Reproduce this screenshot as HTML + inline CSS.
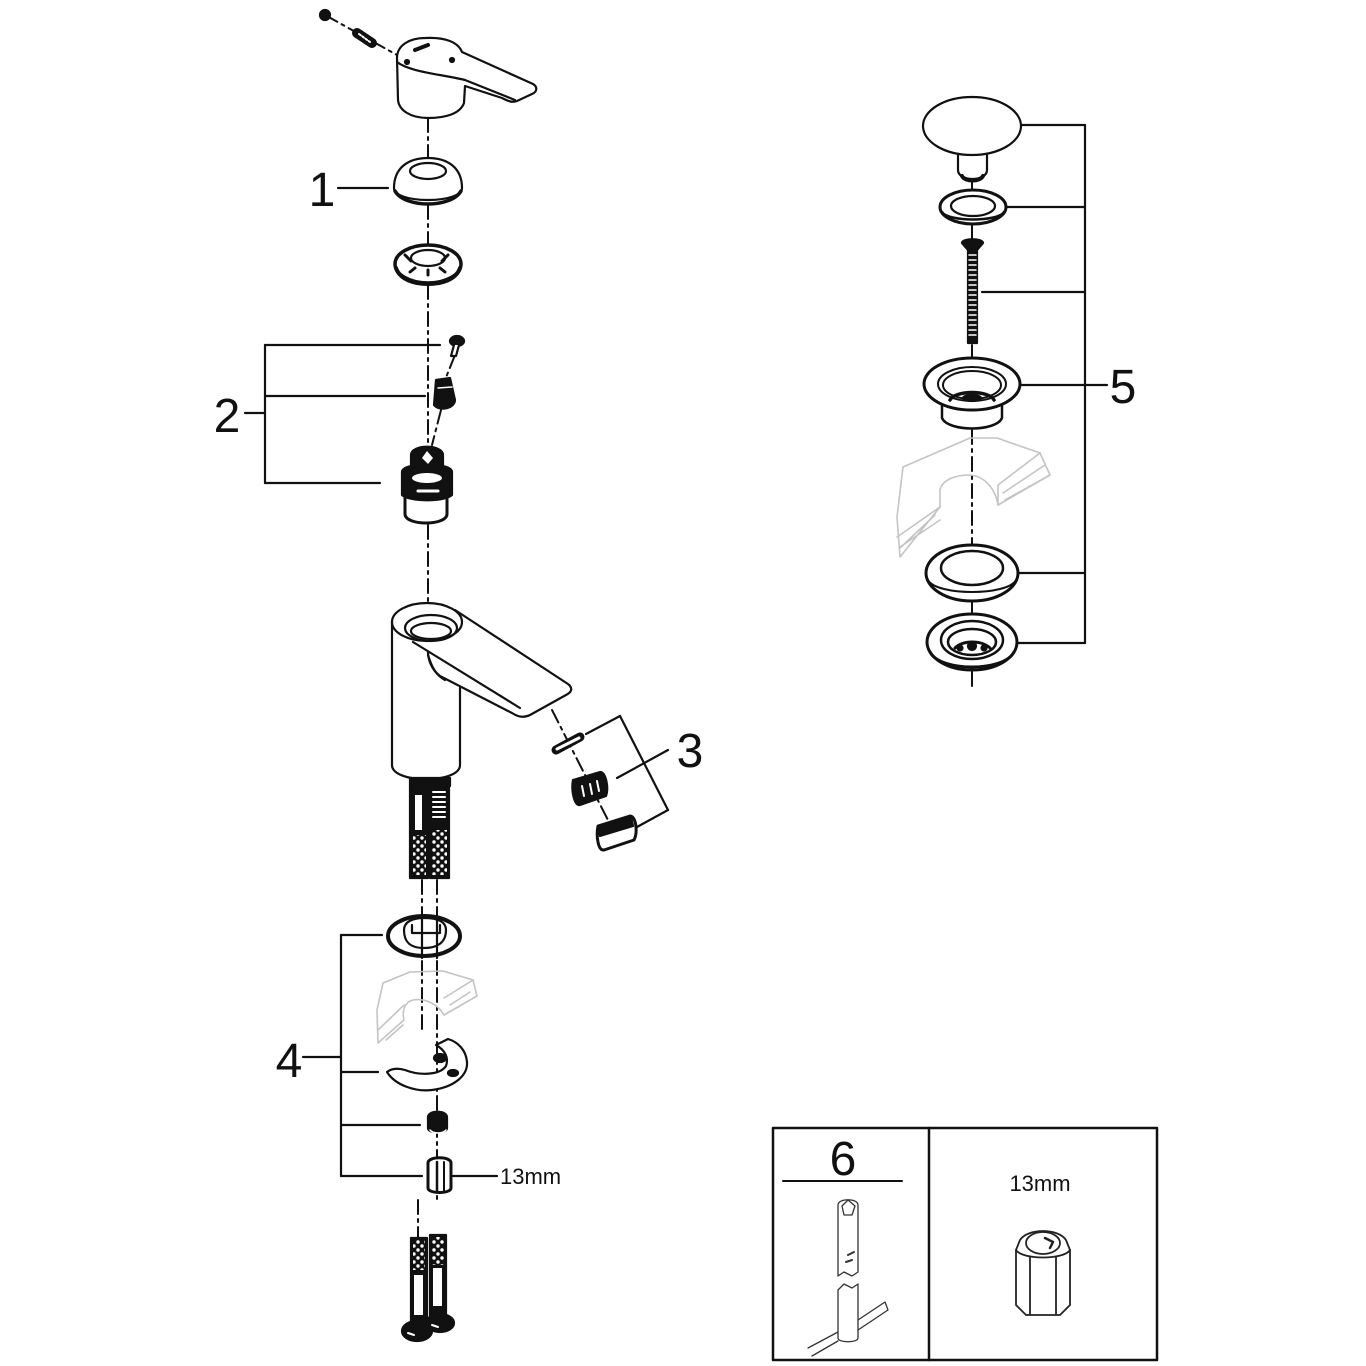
<!DOCTYPE html>
<html><head><meta charset="utf-8"><style>
html,body{margin:0;padding:0;background:#fff;}
svg{display:block;}
text{font-family:"Liberation Sans",Arial,sans-serif;fill:#111;}
</style></head><body>
<svg width="1366" height="1366" viewBox="0 0 1366 1366" xmlns="http://www.w3.org/2000/svg">
<defs>
<pattern id="mesh" width="8" height="8" patternUnits="userSpaceOnUse">
<rect width="8" height="8" fill="#111"/>
<circle cx="2" cy="2" r="1.7" fill="#fff"/><circle cx="6" cy="6" r="1.7" fill="#fff"/>
</pattern>
</defs>
<g fill="none" stroke="#111" stroke-width="2.2" stroke-linecap="round" stroke-linejoin="round">

<!-- ===== axis dash lines (left) ===== -->
<g stroke-width="2" stroke-dasharray="14 5 3 5">
<line x1="325" y1="15" x2="397" y2="55"/>
<line x1="428" y1="118" x2="428" y2="158"/>
<line x1="428" y1="205" x2="428" y2="244"/>
<line x1="428" y1="285" x2="428" y2="448"/>
<line x1="455" y1="355" x2="445" y2="380"/>
<line x1="441" y1="410" x2="432" y2="445"/>
<line x1="428" y1="525" x2="428" y2="612"/>
<line x1="422" y1="880" x2="422" y2="1030"/>
<line x1="437" y1="880" x2="437" y2="1200"/>
<line x1="418" y1="1200" x2="418" y2="1238"/>
<line x1="552" y1="710" x2="612" y2="828"/>
</g>

<!-- ===== handle ===== -->
<circle cx="325" cy="15" r="5" fill="#111"/>
<line x1="357" y1="33" x2="372" y2="43" stroke-width="10"/>
<line x1="359" y1="34" x2="370" y2="42" stroke="#fff" stroke-width="2" stroke-dasharray="2 2"/>
<path d="M397,58 C397,45 410,38 425,38 C445,37 458,42 462,52 L533,84 C538,87 537,92 532,94 L517,101 C512,103 508,101 502,98 L465,86 L464,103 C460,114 445,118 428,118 C410,118 399,110 398,100 Z" fill="#fff"/>
<path d="M397,62 C410,72 440,74 465,80 L515,100"/>
<path d="M415,50 L428,45" stroke-width="4"/>
<circle cx="407" cy="62" r="2" fill="#111"/>
<circle cx="452" cy="60" r="2" fill="#111"/>

<!-- ===== ring 1 ===== -->
<path d="M394,188 C394,168 408,158 428,158 C448,158 462,168 462,188 C462,195 448,200 428,200 C408,200 394,195 394,188 Z" fill="#fff"/>
<ellipse cx="428" cy="171" rx="18" ry="8"/>
<path d="M395,191 C400,200 415,204 428,204 C441,204 456,200 461,191" stroke-width="3.5"/>
<line x1="338" y1="188" x2="388" y2="188"/>
<text x="322" y="206" font-size="48" text-anchor="middle" stroke="none">1</text>

<!-- ===== nut ===== -->
<ellipse cx="428" cy="264" rx="33" ry="19" fill="#fff" stroke-width="3.5"/>
<ellipse cx="428" cy="258" rx="17" ry="8"/>
<path d="M396,268 C400,280 415,284 428,284 C441,284 456,280 460,268" stroke-width="4"/>
<path d="M405,255 l6,6 M448,255 l-6,6 M410,272 l5,-4 M445,272 l-5,-4 M428,275 l0,-5" stroke-width="3"/>

<!-- ===== part 2 ===== -->
<line x1="265" y1="345" x2="265" y2="483"/>
<line x1="265" y1="345" x2="440" y2="345"/>
<line x1="265" y1="396" x2="425" y2="396"/>
<line x1="265" y1="483" x2="380" y2="483"/>
<line x1="245" y1="413" x2="265" y2="413"/>
<text x="227" y="432" font-size="48" text-anchor="middle" stroke="none">2</text>
<ellipse cx="457" cy="341" rx="7" ry="5" fill="#111"/>
<path d="M454,345 L451,356 L456,356 L459,345" fill="#fff"/>
<path d="M436,380 L450,378 L455,400 C455,408 440,412 434,405 Z" fill="#111"/>
<path d="M438,388 L452,387" stroke="#fff" stroke-width="1.5"/>
<!-- cartridge -->
<path d="M405,497 L405,514 C405,526 447,526 447,514 L447,497" fill="#fff" stroke-width="3"/>
<path d="M402,472 C402,462 452,462 452,472 L452,495 C445,502 410,502 402,495 Z" fill="#111"/>
<ellipse cx="427" cy="478" rx="15" ry="5" fill="#fff" stroke="none"/>
<path d="M418,491 L438,491" stroke="#fff" stroke-width="3"/>
<path d="M411,455 C411,444 443,444 443,455 L443,467 C436,470 418,470 411,467 Z" fill="#111"/>
<path d="M422,458 L427,451 L433,458 L428,464 Z" fill="#fff" stroke="none"/>

<!-- ===== body ===== -->
<path d="M392,621 L392,765 C392,784 460,784 460,765 L460,688" fill="#fff"/>
<path d="M455,610 L568,684 C573,688 572,692 566,695 L530,715 C524,718 518,717 512,713 L440,676 C432,670 428,660 428,652" fill="#fff"/>
<path d="M413,642 L520,708"/>
<path d="M428,655 C432,668 436,675 445,680"/>
<ellipse cx="427" cy="622" rx="35" ry="19" fill="#fff"/>
<ellipse cx="431" cy="628" rx="26" ry="13"/>
<ellipse cx="431" cy="631" rx="20" ry="8"/>
<!-- hoses -->
<rect x="410" y="778" width="40" height="8" fill="#111"/>
<rect x="410" y="786" width="18" height="92" fill="#111"/>
<rect x="430" y="786" width="19" height="92" fill="#111"/>
<rect x="413" y="835" width="13" height="40" fill="url(#mesh)" stroke="none"/>
<rect x="432" y="830" width="15" height="45" fill="url(#mesh)" stroke="none"/>
<rect x="415" y="795" width="7" height="35" fill="#fff" stroke="none"/>
<path d="M433,792 h12 M433,797 h12 M433,802 h12 M433,807 h12 M433,812 h12 M433,817 h12" stroke="#fff" stroke-width="2"/>

<!-- ===== part 3 ===== -->
<line x1="556" y1="750" x2="580" y2="737" stroke-width="9"/>
<line x1="557" y1="749" x2="579" y2="738" stroke="#fff" stroke-width="3"/>
<path d="M573,780 L600,772 C606,772 609,788 606,796 L580,805 C574,806 571,790 573,780 Z" fill="#111"/>
<path d="M582,786 l2,10 M590,784 l2,10 M597,781 l2,10" stroke="#fff" stroke-width="2"/>
<path d="M598,826 L630,816 C636,816 638,832 634,840 L604,850 C598,851 596,836 598,826 Z" fill="#fff" stroke-width="3"/>
<path d="M598,827 L631,817 L633,826 L600,836 Z" fill="#111"/>
<line x1="586" y1="734" x2="620" y2="716"/>
<line x1="620" y1="716" x2="668" y2="810"/>
<line x1="668" y1="810" x2="637" y2="827"/>
<line x1="617" y1="778" x2="668" y2="750"/>
<text x="690" y="767" font-size="48" text-anchor="middle" stroke="none">3</text>

<!-- ===== part 4 ===== -->
<ellipse cx="424" cy="936" rx="36" ry="20" fill="#fff" stroke-width="4"/>
<path d="M404,930 C404,922 412,918 424,918 C440,918 446,923 446,930 C446,942 438,948 424,948 C410,948 404,942 404,930 Z"/>
<path d="M412,925 L412,933 L440,933 L440,925"/>
<line x1="422" y1="915" x2="422" y2="958"/>
<line x1="437" y1="915" x2="437" y2="958"/>
<!-- grey counter -->
<g stroke="#c4c4c4" stroke-width="1.6">
<path d="M383,983 L410,972 L443,971 L473,980 L477,996 L444,1015 C438,1004 425,998 413,1000 C404,1002 402,1012 404,1020 L378,1043 L377,1010 Z"/>
<path d="M473,980 L444,998 M378,1030 L404,1005 M386,1040 L403,1025 M450,1005 L470,992"/>
</g>
<!-- horseshoe -->
<path d="M387,1072 C395,1085 415,1092 432,1090 C455,1087 468,1075 467,1062 C466,1050 458,1042 448,1039 L436,1045 C445,1050 449,1058 446,1066 C440,1075 420,1076 405,1070 C398,1068 392,1068 387,1072 Z" fill="#fff"/>
<ellipse cx="440" cy="1058" rx="6" ry="4" fill="#111"/>
<ellipse cx="453" cy="1073" rx="5" ry="3" fill="#111"/>
<!-- small nut -->
<path d="M428,1117 C428,1110 447,1110 447,1117 L447,1128 C447,1134 428,1134 428,1128 Z" fill="#111"/>
<path d="M430,1130 C433,1134 443,1134 446,1130" stroke="#fff" stroke-width="1.5"/>
<!-- hex nut -->
<path d="M428,1163 C428,1156 451,1156 451,1163 L451,1188 C451,1194 428,1194 428,1188 Z" fill="#fff" stroke-width="3"/>
<line x1="437" y1="1162" x2="437" y2="1192" stroke-width="2.5"/>
<line x1="444" y1="1162" x2="444" y2="1192" stroke-width="2"/>
<line x1="453" y1="1176" x2="497" y2="1176"/>
<text x="500" y="1184" font-size="22" stroke="none">13mm</text>
<line x1="341" y1="935" x2="341" y2="1176"/>
<line x1="341" y1="935" x2="382" y2="935"/>
<line x1="341" y1="1072" x2="378" y2="1072"/>
<line x1="341" y1="1125" x2="420" y2="1125"/>
<line x1="341" y1="1176" x2="422" y2="1176"/>
<line x1="303" y1="1057" x2="341" y2="1057"/>
<text x="289" y="1077" font-size="48" text-anchor="middle" stroke="none">4</text>

<!-- bottom hoses -->
<rect x="411" y="1238" width="16" height="88" fill="#111"/>
<rect x="430" y="1235" width="16" height="82" fill="#111"/>
<rect x="413" y="1240" width="12" height="30" fill="url(#mesh)" stroke="none"/>
<rect x="432" y="1237" width="12" height="28" fill="url(#mesh)" stroke="none"/>
<rect x="414" y="1275" width="9" height="40" fill="#fff" stroke="none"/>
<rect x="433" y="1268" width="9" height="38" fill="#fff" stroke="none"/>
<ellipse cx="440" cy="1323" rx="14" ry="9" fill="#111"/>
<ellipse cx="417" cy="1331" rx="15" ry="10" fill="#111"/>
<path d="M408,1333 l6,2 M432,1325 l6,2" stroke="#fff" stroke-width="2"/>

<!-- ===== right drain assembly ===== -->
<g stroke-width="2" stroke-dasharray="14 5 3 5">
<line x1="972" y1="180" x2="972" y2="192"/>
<line x1="972" y1="225" x2="972" y2="240"/>
<line x1="972" y1="345" x2="972" y2="360"/>
<line x1="972" y1="430" x2="972" y2="545"/>
<line x1="972" y1="600" x2="972" y2="615"/>
<line x1="972" y1="672" x2="972" y2="690"/>
</g>
<!-- grey counter right -->
<g stroke="#c4c4c4" stroke-width="1.6">
<path d="M903,467 L970,438 L997,438 L1040,453 L1050,475 L998,505 C996,490 985,476 970,475 C955,475 942,480 940,490 L940,507 L900,557 L897,517 Z"/>
<path d="M1040,453 L998,485 L998,505 M1050,475 L1005,500 M1045,465 L1003,493 M940,507 L897,537 M935,515 L900,548 M900,547 L940,520"/>
</g>
<!-- cap -->
<path d="M958,152 L958,170 C958,182 987,182 987,170 L987,152" fill="#fff"/>
<path d="M962,176 C965,182 980,182 983,176" stroke-width="4"/>
<ellipse cx="972" cy="126" rx="49" ry="29" fill="#fff"/>
<!-- ring -->
<ellipse cx="973" cy="207" rx="33" ry="17" fill="#fff" stroke-width="3"/>
<ellipse cx="973" cy="206" rx="22" ry="10"/>
<path d="M942,212 C948,222 998,222 1004,212" stroke-width="2.5"/>
<!-- screw -->
<path d="M962,243 C962,238 983,238 983,243 L977,250 L968,250 Z" fill="#111"/>
<rect x="968" y="250" width="9" height="93" fill="#111"/>
<path d="M969,255 h7 M969,260 h7 M969,265 h7 M969,270 h7 M969,275 h7 M969,280 h7 M969,285 h7 M969,290 h7 M969,295 h7 M969,300 h7 M969,305 h7 M969,310 h7 M969,315 h7 M969,320 h7 M969,325 h7 M969,330 h7 M969,335 h7" stroke="#fff" stroke-width="1.5"/>
<!-- flange -->
<path d="M942,400 L942,418 C948,432 996,432 1002,418 L1002,400" fill="#fff" stroke-width="2.5"/>
<ellipse cx="972" cy="384" rx="48" ry="26" fill="#fff" stroke-width="3"/>
<ellipse cx="972" cy="384" rx="34" ry="17" stroke-width="2"/>
<ellipse cx="972" cy="385" rx="29" ry="14" stroke-width="2"/>
<path d="M950,400 C955,390 989,390 994,400" stroke-width="3.5"/>
<ellipse cx="972" cy="398" rx="9" ry="3" fill="#111"/>
<!-- ring lower -->
<ellipse cx="972" cy="573" rx="46" ry="28" fill="#fff" stroke-width="3"/>
<ellipse cx="972" cy="568" rx="31" ry="17" stroke-width="2.5"/>
<path d="M928,580 C936,596 1008,596 1016,580" stroke-width="2"/>
<!-- strainer -->
<ellipse cx="972" cy="642" rx="45" ry="28" fill="#fff" stroke-width="3"/>
<ellipse cx="972" cy="640" rx="31" ry="19" stroke-width="2.5"/>
<ellipse cx="972" cy="642" rx="24" ry="13" stroke-width="2.5"/>
<path d="M955,648 C962,640 982,640 990,648" stroke-width="3"/>
<circle cx="972" cy="646" r="4" fill="#111"/>
<circle cx="960" cy="648" r="2.5" fill="#111"/>
<circle cx="984" cy="648" r="2.5" fill="#111"/>
<path d="M930,652 C940,672 1004,672 1014,652" stroke-width="3"/>
<!-- bracket 5 -->
<line x1="1085" y1="125" x2="1085" y2="643"/>
<line x1="1022" y1="125" x2="1085" y2="125"/>
<line x1="1007" y1="207" x2="1085" y2="207"/>
<line x1="982" y1="292" x2="1085" y2="292"/>
<line x1="1022" y1="385" x2="1107" y2="385"/>
<line x1="1018" y1="573" x2="1085" y2="573"/>
<line x1="1017" y1="643" x2="1085" y2="643"/>
<text x="1123" y="403" font-size="48" text-anchor="middle" stroke="none">5</text>

<!-- ===== tool box ===== -->
<rect x="773" y="1128" width="384" height="232" stroke-width="2.5"/>
<line x1="929" y1="1128" x2="929" y2="1360" stroke-width="2.5"/>
<text x="843" y="1175" font-size="48" text-anchor="middle" stroke="none">6</text>
<line x1="783" y1="1181" x2="902" y2="1181" stroke-width="2"/>
<g stroke="#333" stroke-width="1.3">
<path d="M838,1205 C838,1198 858,1198 858,1205 L858,1272 L852,1276 L844,1272 L838,1276 Z"/>
<path d="M842,1206 L848,1200 L855,1206 L852,1215 L844,1215 Z"/>
<path d="M838,1290 L844,1284 L852,1288 L858,1284 L858,1338 C858,1343 838,1343 838,1338 Z"/>
<path d="M808,1348 L838,1332 M812,1356 L838,1341 M858,1320 L885,1302 M858,1330 L888,1310 M885,1302 L888,1310"/>
<path d="M848,1255 l6,-3 M846,1262 l6,-2" stroke-width="2"/>
</g>
<text x="1040" y="1191" font-size="22" text-anchor="middle" stroke="none">13mm</text>
<g stroke="#222" stroke-width="1.8">
<path d="M1016,1250 L1020,1240 C1028,1228 1058,1228 1066,1240 L1070,1250 L1070,1305 L1060,1315 L1026,1315 L1016,1305 Z" fill="#fff"/>
<path d="M1016,1250 C1022,1260 1064,1260 1070,1250"/>
<line x1="1030" y1="1257" x2="1030" y2="1314"/>
<line x1="1056" y1="1257" x2="1056" y2="1314"/>
<ellipse cx="1043" cy="1243" rx="17" ry="11"/>
<path d="M1045,1238 l8,4 l-3,6" stroke-width="2.5"/>
</g>

</g>
</svg>
</body></html>
